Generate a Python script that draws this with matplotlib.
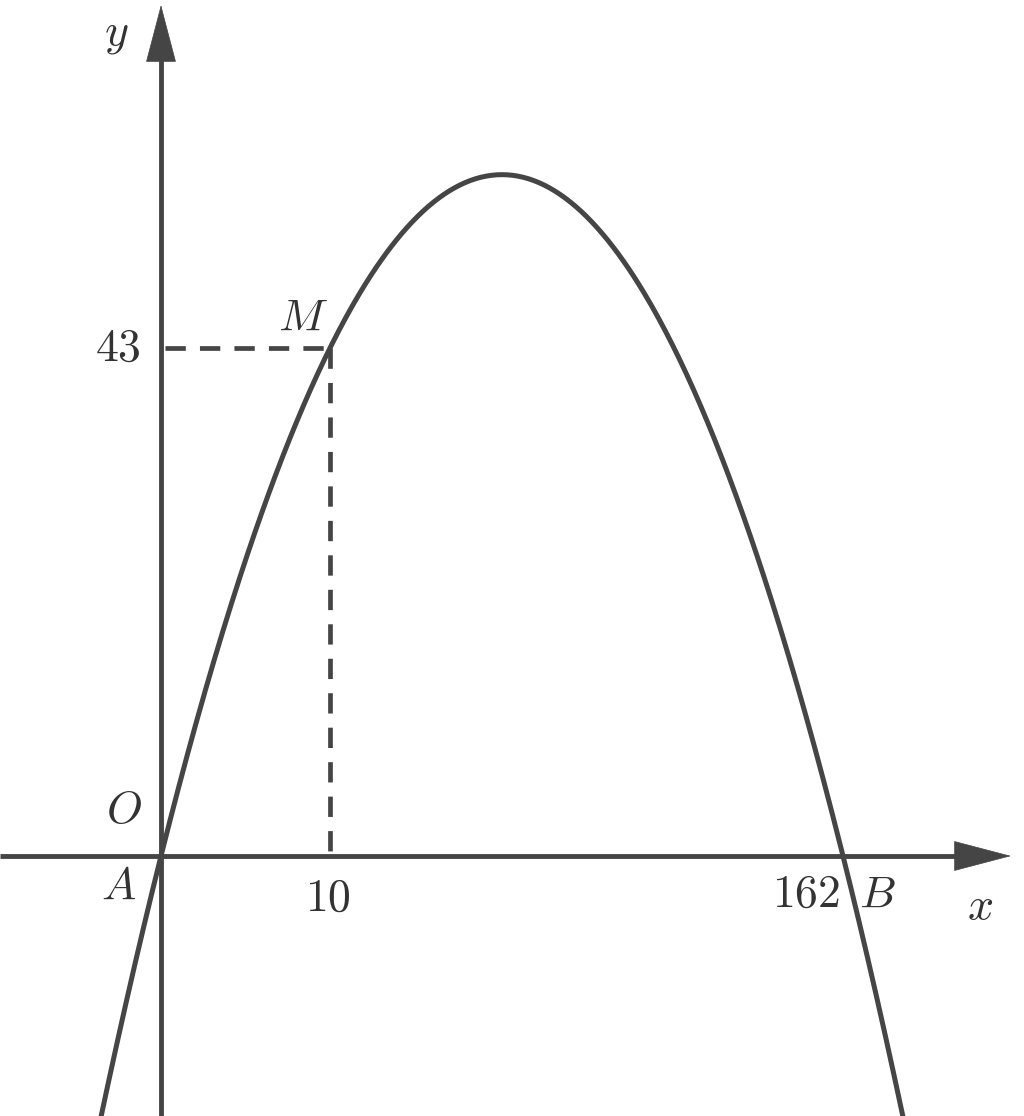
import numpy as np
import matplotlib.pyplot as plt

plt.rcParams['mathtext.fontset'] = 'cm'

# values shown on the picture
x_root_b = 162      # B, second root of the parabola
m_value = (10, 43)  # M: x label 10, y label 43
# the sketch is not to scale: M is drawn at about a quarter of the way to B
m_drawn_x = x_root_b * 0.2478

# parabola through A(0,0), B(162,0) and the drawn M
a = m_value[1] / (m_drawn_x * (m_drawn_x - x_root_b))
xs = np.linspace(-40, 210, 600)
ys = a * xs * (xs - x_root_b)

W, H = 1024, 1116
ox, oy = 161, 856                 # origin in pixels
sx = 682 / x_root_b               # pixels per x unit
sy = 508 / m_value[1]             # pixels per y unit

def P(px, py):
    return (px - ox) / sx, (oy - py) / sy

col = '#454545'
fig = plt.figure(figsize=(W / 100, H / 100), dpi=100)
ax = fig.add_axes([0, 0, 1, 1])
ax.set_xlim(P(0, 0)[0], P(W, 0)[0])
ax.set_ylim(P(0, H)[1], P(0, 0)[1])
ax.axis('off')

# axes with arrows
ax.plot([P(0, 0)[0], P(960, 0)[0]], [0, 0], color=col, lw=3.5, solid_capstyle='butt')
ax.plot([0, 0], [P(0, H)[1], P(0, 60)[1]], color=col, lw=3.5, solid_capstyle='butt')
style = '-|>,head_length=1.98,head_width=0.52'
ax.annotate('', xy=P(1011, oy), xytext=P(900, oy),
            arrowprops=dict(arrowstyle=style, mutation_scale=20, color=col, lw=0.5,
                            shrinkA=0, shrinkB=0))
ax.annotate('', xy=P(ox, 5), xytext=P(ox, 120),
            arrowprops=dict(arrowstyle=style, mutation_scale=20, color=col, lw=0.5,
                            shrinkA=0, shrinkB=0))

# parabola
ax.plot(xs, ys, color=col, lw=3.6)

# dashed guides to M
ax.plot([P(165, 0)[0], m_drawn_x], [m_value[1], m_value[1]], color=col, lw=3.4,
        dashes=(4.3, 3.0))
ax.plot([m_drawn_x, m_drawn_x], [m_value[1], 0], color=col, lw=3.4, dashes=(4.3, 3.0))

fs = 33
def lab(s, px, py, **kw):
    x, y = P(px, py)
    ax.text(x, y, s, fontsize=fs, color='#333333', ha='center', va='center', **kw)

lab('$y$', 116, 34)
lab('$x$', 980, 906)
lab('$%d$' % m_value[1], 118, 348)
lab('$M$', 303, 318)
lab('$O$', 124, 810)
lab('$A$', 119, 886)
lab('$%d$' % m_value[0], 328, 898)
lab('$%d$' % x_root_b, 806, 894)
lab('$B$', 877, 895)

fig.savefig('out.png', dpi=100, facecolor='white')
